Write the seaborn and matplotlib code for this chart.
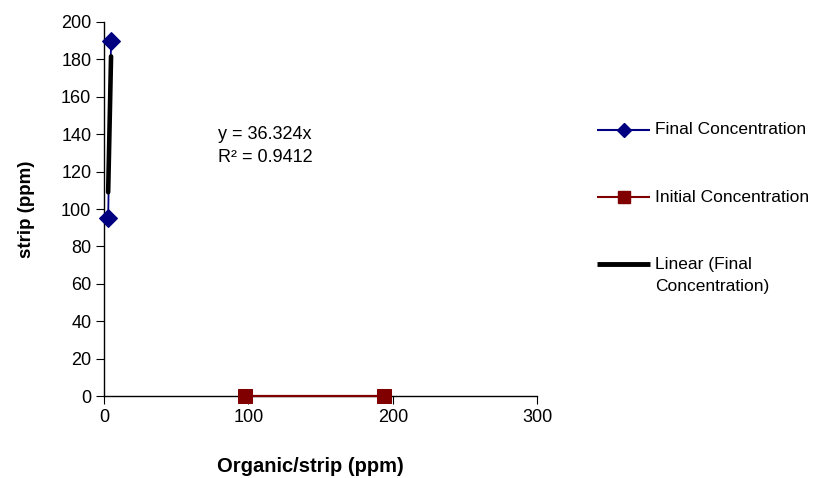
import numpy as np
import pandas as pd
import matplotlib
matplotlib.use("Agg")
import matplotlib.pyplot as plt
import seaborn as sns
from matplotlib.lines import Line2D

final_x = [3, 5]
final_y = [95, 190]
initial_x = [98, 194]
initial_y = [0, 0]
x_ticks = [0, 100, 200, 300]
y_ticks = [0, 20, 40, 60, 80, 100, 120, 140, 160, 180, 200]
legend_labels = ["Final Concentration", "Initial Concentration", ["Linear (Final", "Concentration)"]]
equation_lines = ["y = 36.324x", "R² = 0.9412"]

sns.set_style("ticks")
plt.rcParams['font.family'] = ['Liberation Sans', 'DejaVu Sans']
plt.rcParams.update({"text.color": "black", "axes.labelcolor": "black",
                     "xtick.color": "black", "ytick.color": "black"})

fig = plt.figure(figsize=(8.24, 4.78), dpi=100)
ax = fig.add_axes([0.126, 0.1715, 0.526, 0.7825])

navy = "#000080"
maroon = "#800000"

df_final = pd.DataFrame({"x": final_x, "y": final_y})
df_init = pd.DataFrame({"x": initial_x, "y": initial_y})

# trendline through origin (least squares, zero intercept)
fx = np.array(final_x, dtype=float)
fy = np.array(final_y, dtype=float)
slope = np.sum(fx * fy) / np.sum(fx ** 2)
df_trend = pd.DataFrame({"x": fx, "y": slope * fx})

sns.lineplot(data=df_final, x="x", y="y", ax=ax, color=navy, lw=1.3,
             marker="D", markersize=9.5, markeredgecolor=navy, zorder=3, clip_on=False)
sns.lineplot(data=df_init, x="x", y="y", ax=ax, color=maroon, lw=1.6,
             marker="s", markersize=10, markeredgecolor=maroon, zorder=3, clip_on=False)
sns.lineplot(data=df_trend, x="x", y="y", ax=ax, color="black", lw=3.3, zorder=4)

ax.set_xlim(0, 300)
ax.set_ylim(0, 200)
ax.set_xticks(x_ticks)
ax.set_yticks(y_ticks)
ax.tick_params(labelsize=13, length=6, width=0.8, color="black", pad=3)
for s in ["top", "right"]:
    ax.spines[s].set_visible(False)
for s in ["left", "bottom"]:
    ax.spines[s].set_color("black")
    ax.spines[s].set_linewidth(1.0)

ax.set_xlabel("Organic/strip (ppm)", fontsize=14.5, fontweight="bold")
ax.set_ylabel("strip (ppm)", fontsize=13.5, fontweight="bold", labelpad=19)
ax.xaxis.set_label_coords(0.477, -0.163)

ax.text(79, 139.6, equation_lines[0], fontsize=13, va="center", ha="left")
ax.text(79, 127.3, equation_lines[1], fontsize=13, va="center", ha="left")

# manual legend (figure pixel layout)
W, H = 824, 478
def fxp(px):
    return px / W
def fyp(py):
    return 1 - py / H

legend_handles = [
    dict(color=navy, lw=1.5, marker="D", markersize=7),
    dict(color=maroon, lw=1.5, marker="s", markersize=9),
    dict(color="black", lw=3.5, marker=None, markersize=0),
]
rows_y = [130, 197, 264]
for kw, lab, ry in zip(legend_handles, legend_labels, rows_y):
    fig.add_artist(Line2D([fxp(597), fxp(650)], [fyp(ry), fyp(ry)], color=kw["color"],
                          lw=kw["lw"], solid_capstyle="butt", transform=fig.transFigure))
    if kw["marker"]:
        fig.add_artist(Line2D([fxp(623.5)], [fyp(ry)], color=kw["color"], marker=kw["marker"],
                              markersize=kw["markersize"], lw=0, transform=fig.transFigure))
    lines = lab if isinstance(lab, list) else [lab]
    for i, line in enumerate(lines):
        fig.text(fxp(655), fyp(ry + 23 * i), line, fontsize=12.5, va="center", ha="left")

fig.savefig("out.png", dpi=100)
